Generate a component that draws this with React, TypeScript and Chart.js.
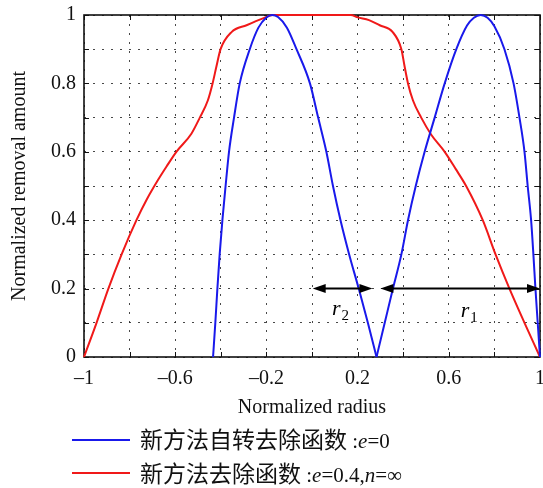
import React, { useEffect, useRef } from 'react';
import { Chart, registerables } from 'chart.js';

Chart.register(...registerables);

// ---- data ----
// blue series (e=0), left lobe and right lobe
const blueLeftX = [-0.434, -0.424, -0.415, -0.405, -0.393, -0.379, -0.364, -0.342, -0.317, -0.273, -0.235, -0.2, -0.175, -0.149, -0.11, -0.068, -0.009, 0.027, 0.063, 0.092, 0.125, 0.163, 0.205, 0.245, 0.283];
const blueLeftY = [0, 0.1, 0.2, 0.3, 0.4, 0.5, 0.6, 0.7, 0.8, 0.9, 0.963, 0.993, 1, 0.994, 0.963, 0.9, 0.8, 0.7, 0.6, 0.5, 0.4, 0.3, 0.2, 0.1, 0];
const blueRightX = [0.283, 0.319, 0.355, 0.392, 0.421, 0.455, 0.494, 0.538, 0.582, 0.633, 0.68, 0.71, 0.74, 0.77, 0.8, 0.844, 0.884, 0.91, 0.932, 0.946, 0.961, 0.971, 0.98, 0.99, 1.0];
const blueRightY = [0, 0.1, 0.2, 0.3, 0.4, 0.5, 0.6, 0.7, 0.8, 0.9, 0.969, 0.992, 1, 0.992, 0.967, 0.9, 0.8, 0.7, 0.6, 0.5, 0.4, 0.3, 0.2, 0.1, 0];

// red series (e=0.4, n=inf)
const redX = [-1, -0.945, -0.893, -0.835, -0.77, -0.726, -0.675, -0.638, -0.595, -0.529, -0.492, -0.457, -0.436, -0.419, -0.401, -0.353, -0.287, -0.215, -0.172, 0, 0.17, 0.201, 0.25, 0.297, 0.354, 0.392, 0.406, 0.421, 0.443, 0.479, 0.523, 0.582, 0.63, 0.676, 0.749, 0.805, 0.866, 0.932, 1.0];
const redY = [0, 0.1, 0.2, 0.3, 0.4, 0.459, 0.518, 0.557, 0.6, 0.653, 0.7, 0.75, 0.8, 0.85, 0.9, 0.95, 0.97, 0.99, 1, 1, 1, 0.993, 0.985, 0.97, 0.95, 0.9, 0.85, 0.8, 0.75, 0.7, 0.65, 0.6, 0.55, 0.5, 0.4, 0.3, 0.2, 0.1, 0];

const xTickValues = [-1, -0.8, -0.6, -0.4, -0.2, 0, 0.2, 0.4, 0.6, 0.8, 1];
const xTickLabels = ['\u20131', '', '\u20130.6', '', '\u20130.2', '', '0.2', '', '0.6', '', '1'];
const yTickValues = [0, 0.1, 0.2, 0.3, 0.4, 0.5, 0.6, 0.7, 0.8, 0.9, 1];
const yTickLabels = ['0', '', '0.2', '', '0.4', '', '0.6', '', '0.8', '', '1'];

const arrowLevel = 0.2;
const arrowStarts = [0.003, 0.3];
const arrowEnds = [0.265, 1.0];
const spanNames = ['r', 'r'];
const spanSubs = ['2', '1'];
const spanLabelX = [0.125, 0.69];
const spanLabelY = [0.135, 0.13];

const legendCjk = ['新方法自转去除函数', '新方法去除函数'];
const legendTails = [
  [{ t: ' :', i: false }, { t: 'e', i: true }, { t: '=0', i: false }],
  [{ t: ' :', i: false }, { t: 'e', i: true }, { t: '=0.4,', i: false }, { t: 'n', i: true }, { t: '=\u221e', i: false }],
];
const seriesNames = ['新方法自转去除函数 :e=0', '新方法去除函数 :e=0.4,n=∞'];
const seriesColors = ['rgb(25,25,235)', 'rgb(240,25,25)'];

const SERIF = '"Liberation Serif", "Times New Roman", serif';
const CJK = '"Noto Sans CJK SC", sans-serif';

const framePlugin = {
  id: 'frame',
  beforeDatasetsDraw(chart: any) {
    const { ctx, chartArea: a, scales } = chart;
    const xs = scales.x;
    const ys = scales.y;
    ctx.save();
    ctx.strokeStyle = '#111';
    ctx.lineWidth = 1;
    ctx.beginPath();
    const tl = 5;
    for (const v of xTickValues) {
      const px = Math.round(xs.getPixelForValue(v)) + 0.5;
      ctx.moveTo(px, a.bottom); ctx.lineTo(px, a.bottom - tl);
      ctx.moveTo(px, a.top); ctx.lineTo(px, a.top + tl);
    }
    for (const v of yTickValues) {
      const py = Math.round(ys.getPixelForValue(v)) + 0.5;
      ctx.moveTo(a.left, py); ctx.lineTo(a.left + tl, py);
      ctx.moveTo(a.right, py); ctx.lineTo(a.right - tl, py);
    }
    ctx.stroke();
    ctx.lineWidth = 1.6;
    ctx.strokeRect(a.left, a.top, a.right - a.left, a.bottom - a.top);
    ctx.restore();
  },
  afterDatasetsDraw(chart: any) {
    const { ctx, scales } = chart;
    const xs = scales.x;
    const ys = scales.y;
    ctx.save();
    const py = ys.getPixelForValue(arrowLevel);
    const hl = 13, hw = 4.5;
    ctx.fillStyle = '#000';
    ctx.strokeStyle = '#000';
    ctx.lineWidth = 2;
    for (let k = 0; k < arrowStarts.length; k++) {
      const x0 = xs.getPixelForValue(arrowStarts[k]);
      const x1 = xs.getPixelForValue(arrowEnds[k]);
      ctx.beginPath();
      ctx.moveTo(x0 + hl - 2, py); ctx.lineTo(x1 - hl + 2, py);
      ctx.stroke();
      ctx.beginPath();
      ctx.moveTo(x0, py); ctx.lineTo(x0 + hl, py - hw); ctx.lineTo(x0 + hl, py + hw); ctx.closePath();
      ctx.fill();
      ctx.beginPath();
      ctx.moveTo(x1, py); ctx.lineTo(x1 - hl, py - hw); ctx.lineTo(x1 - hl, py + hw); ctx.closePath();
      ctx.fill();
    }
    ctx.textBaseline = 'alphabetic';
    for (let k = 0; k < spanNames.length; k++) {
      const lx = xs.getPixelForValue(spanLabelX[k]);
      const ly = ys.getPixelForValue(spanLabelY[k]);
      ctx.font = `italic 22px ${SERIF}`;
      const w = ctx.measureText(spanNames[k]).width;
      ctx.textAlign = 'left';
      ctx.fillText(spanNames[k], lx - w, ly + 4);
      ctx.font = `15px ${SERIF}`;
      ctx.fillText(spanSubs[k], lx + 1, ly + 9);
    }
    ctx.restore();
  },
  afterDraw(chart: any) {
    const { ctx } = chart;
    ctx.save();
    const lineY = [440, 473];
    const baseY = [448, 482];
    for (let k = 0; k < 2; k++) {
      ctx.strokeStyle = seriesColors[k];
      ctx.lineWidth = 2;
      ctx.beginPath();
      ctx.moveTo(72, lineY[k]);
      ctx.lineTo(130, lineY[k]);
      ctx.stroke();
      ctx.fillStyle = '#111';
      ctx.textBaseline = 'alphabetic';
      ctx.textAlign = 'left';
      let x = 140;
      ctx.font = `23px ${CJK}`;
      ctx.fillText(legendCjk[k], x, baseY[k]);
      x += ctx.measureText(legendCjk[k]).width;
      for (const seg of legendTails[k]) {
        ctx.font = `${seg.i ? 'italic ' : ''}21px ${SERIF}`;
        ctx.fillText(seg.t, x, baseY[k]);
        x += ctx.measureText(seg.t).width;
      }
    }
    ctx.restore();
  },
};

export default function App() {
  const ref = useRef<HTMLCanvasElement | null>(null);
  useEffect(() => {
    if (!ref.current) return;
    const tickFont = { family: SERIF, size: 20, lineHeight: 1 };
    const lineDs = (label: string, xs: number[], ys: number[], color: string) => ({
      label,
      data: xs.map((x, i) => ({ x, y: ys[i] })),
      borderColor: color,
      borderWidth: 2,
      pointRadius: 0,
      cubicInterpolationMode: 'monotone',
      fill: false,
      clip: 4,
    });
    const chart = new Chart(ref.current, {
      type: 'line',
      data: {
        datasets: [
          lineDs(seriesNames[0], blueLeftX, blueLeftY, seriesColors[0]),
          lineDs(seriesNames[0], blueRightX, blueRightY, seriesColors[0]),
          lineDs(seriesNames[1], redX, redY, seriesColors[1]),
        ],
      },
      options: {
        animation: false,
        responsive: false,
        devicePixelRatio: 1,
        layout: { padding: { top: 15, right: 3, bottom: 70, left: 0 } },
        plugins: { legend: { display: false }, tooltip: { enabled: false } },
        scales: {
          x: {
            type: 'linear',
            min: -1,
            max: 1,
            afterBuildTicks: (s: any) => { s.ticks = xTickValues.map((v) => ({ value: v })); },
            afterFit: (s: any) => { s.height = 61; s.paddingLeft = 0; s.paddingRight = 0; s.paddingTop = 0; s.paddingBottom = 0; },
            ticks: {
              autoSkip: false,
              maxRotation: 0,
              padding: 12,
              color: '#111',
              font: tickFont,
              callback: (_v: any, i: number) => xTickLabels[i],
            },
            grid: { color: 'rgba(40,40,40,0.85)', lineWidth: 1, drawTicks: false },
            border: { display: false, dash: [2, 7] },
            title: { display: true, text: 'Normalized radius', color: '#111', font: tickFont, padding: { top: 0, bottom: 0 } },
          },
          y: {
            type: 'linear',
            min: 0,
            max: 1,
            afterBuildTicks: (s: any) => { s.ticks = yTickValues.map((v) => ({ value: v })); },
            afterFit: (s: any) => { s.width = 84; s.paddingLeft = 0; s.paddingRight = 0; s.paddingTop = 0; s.paddingBottom = 0; },
            ticks: {
              autoSkip: false,
              padding: 8,
              color: '#111',
              font: tickFont,
              callback: (_v: any, i: number) => yTickLabels[i],
            },
            grid: { color: 'rgba(40,40,40,0.85)', lineWidth: 1, drawTicks: false },
            border: { display: false, dash: [2, 7] },
            title: { display: true, text: 'Normalized removal amount', color: '#111', font: tickFont, padding: { top: 10, bottom: 0 } },
          },
        },
      } as any,
      plugins: [framePlugin],
    });
    return () => chart.destroy();
  }, []);
  return (
    <div style={{ position: 'fixed', left: 0, top: 0, width: 543, height: 488, background: '#fff' }}>
      <canvas ref={ref} width={543} height={488} />
    </div>
  );
}
